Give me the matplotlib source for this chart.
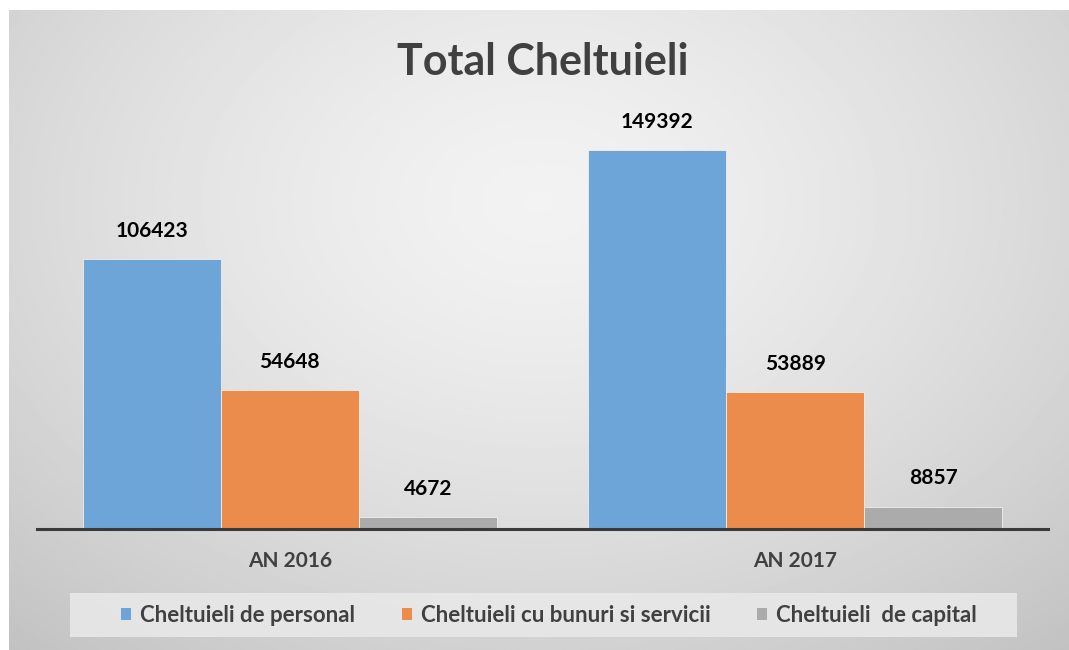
import numpy as np
import matplotlib
matplotlib.use("Agg")
import matplotlib.pyplot as plt
from matplotlib.patches import Patch, Rectangle

plt.rcParams['font.family'] = ['Lato', 'DejaVu Sans']

# data
years = ['AN 2016', 'AN 2017']
series_names = ['Cheltuieli de personal', 'Cheltuieli cu bunuri si servicii', 'Cheltuieli  de capital']
personal = [106423, 149392]
bunuri = [54648, 53889]
capital = [4672, 8857]
colors = ['#6ea5d8', '#eb8b4c', '#ababab']

W, H = 1069, 650
fig = plt.figure(figsize=(W / 100, H / 100), dpi=100)
fig.patch.set_facecolor('white')

# radial gray background of the chart frame
bg = fig.add_axes([9 / W, 0, 1 - 9 / W, 1 - 10 / H])
yy, xx = np.mgrid[0:1:300j, 0:1:500j]
r = np.sqrt(((xx - 0.5) / 0.75) ** 2 + ((yy - 0.3) / 0.9) ** 2)
r = np.clip(r / r.max(), 0, 1)
shade = 0.95 - 0.19 * r ** 1.4
bg.imshow(shade, cmap='gray', vmin=0, vmax=1, aspect='auto', extent=[0, 1, 1, 0])
bg.set_axis_off()

ax = fig.add_axes([37 / W, (H - 529) / H, (1048 - 37) / W, 0.6])
ax.patch.set_alpha(0)
x = np.arange(len(years))
bw = 0.273
vals = [personal, bunuri, capital]
for i, (name, v) in enumerate(zip(series_names, vals)):
    pos = x + (i - 1) * bw
    bars = ax.bar(pos, v, width=bw, color=colors[i], edgecolor='#f3ede6', linewidth=0.6, label=name, zorder=2)
    for b, val in zip(bars, v):
        ax.annotate(str(val), (b.get_x() + b.get_width() / 2, val), xytext=(0, 13),
                    textcoords='offset points', ha='center', va='bottom',
                    fontsize=15, fontweight='bold', color='black')

ax.set_xlim(-0.5, 1.5)
ymax = 0.6 * H / 0.002537
ax.set_ylim(0, ymax)
ax.set_yticks([])
ax.set_xticks(x)
ax.set_xticklabels(years, fontsize=15, fontweight='bold', color='#404040')
ax.tick_params(axis='x', length=0, pad=16)
for s in ['top', 'right', 'left']:
    ax.spines[s].set_visible(False)
ax.spines['bottom'].set_color('#3a3a3a')
ax.spines['bottom'].set_linewidth(2.2)
ax.spines['bottom'].set_zorder(3)

fig.text(543 / W, 1 - 62 / H, 'Total Cheltuieli', ha='center', va='center',
         fontsize=31, fontweight='bold', color='#404040')

# legend box drawn separately so it can be wider than the entries
fig.patches.append(Rectangle((70 / W, 1 - 637 / H), (1017 - 70) / W, 44 / H,
                             transform=fig.transFigure, facecolor='#e8e8e8',
                             edgecolor='none', alpha=0.9, zorder=1))
handles = [Patch(facecolor=c, edgecolor='none') for c in colors]
leg = fig.legend(handles, series_names, loc='center', bbox_to_anchor=(549 / W, 1 - 615 / H),
                 ncol=3, frameon=False, fontsize=16, handlelength=0.45, handleheight=0.45,
                 handletextpad=0.4, columnspacing=2.1, borderpad=0.3)
for t in leg.get_texts():
    t.set_fontweight('bold')
    t.set_color('#404040')

fig.savefig('out.png', dpi=100)
